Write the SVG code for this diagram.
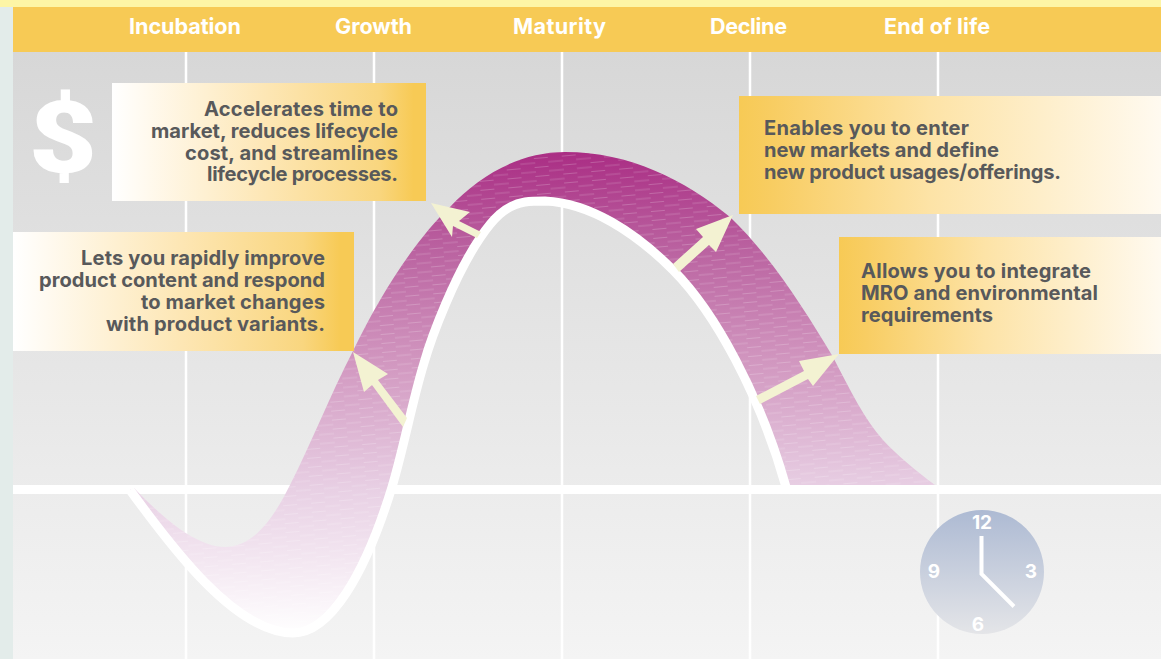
<svg xmlns="http://www.w3.org/2000/svg" width="1161" height="659" viewBox="0 0 1161 659">
<style>
.txt{font-family:Inter,"Liberation Sans",sans-serif;font-weight:700;font-size:20.1px;fill:#58595b}
.hd{font-family:Inter,"Liberation Sans",sans-serif;font-weight:700;font-size:21.6px;fill:#fff;text-anchor:middle}
.r{text-anchor:end}
.grid{stroke:#fff;stroke-width:2.5;fill:none}
.arrow{fill:#f3f2d2}
.ck{font-family:Inter,"Liberation Sans",sans-serif;font-weight:700;font-size:19px;fill:#fff;text-anchor:middle}
</style>
<defs>
<linearGradient id="bg" x1="0" y1="0" x2="0" y2="1"><stop offset="0" stop-color="#d7d7d7"/><stop offset="1" stop-color="#f4f4f4"/></linearGradient>
<linearGradient id="toY" x1="0" y1="0" x2="1" y2="0"><stop offset="0" stop-color="#fff"/><stop offset=".1" stop-color="#fffaf0"/><stop offset=".5" stop-color="#fde6b3"/><stop offset=".85" stop-color="#f9d67f"/><stop offset=".96" stop-color="#f7ca55"/><stop offset="1" stop-color="#f7ca55"/></linearGradient>
<linearGradient id="fromY" x1="0" y1="0" x2="1" y2="0"><stop offset="0" stop-color="#f7ca55"/><stop offset=".08" stop-color="#f8cd62"/><stop offset=".45" stop-color="#fde3a6"/><stop offset="1" stop-color="#fffaf0"/></linearGradient>
<linearGradient id="band" gradientUnits="userSpaceOnUse" x1="0" y1="152" x2="0" y2="635"><stop offset="0" stop-color="#aa2d84"/><stop offset=".2" stop-color="#ba62a0"/><stop offset=".43" stop-color="#d196bf"/><stop offset=".7" stop-color="#e8d0e4"/><stop offset="1" stop-color="#fff"/></linearGradient>
<linearGradient id="clock" x1="0" y1="0" x2="0" y2="1"><stop offset="0" stop-color="#adbad3"/><stop offset="1" stop-color="#e4e5e8"/></linearGradient>
<pattern id="tex" width="28" height="9" patternUnits="userSpaceOnUse" patternTransform="rotate(-5)"><path d="M0 2H15M14 6.500H29" stroke="#fff" stroke-opacity=".2" stroke-width="1"/></pattern>
<path id="bandShape" d="M130 490C170 545 235 633 293 633C330 633 365 575 392 487C404 447 412 402 424 363C432 335 455 275 480 238C492 220 505 205 525 202C532 201 538 201 545 201C590 203 635 232 673 270C715 312 760 395 786 485L935 485C915 470 897 455 883 440C865 420 850 390 833 357C805 310 770 255 730 217C685 180 630 152 565 152C520 152 480 175 450 207C415 240 380 295 353 351C330 395 312 442 290 485C275 515 255 547 225 547C195 547 160 515 134 488Z"/>
</defs>
<rect id="backdrop" x="13" y="52" width="1148" height="607" fill="url(#bg)"/>
<rect x="0" y="0" width="13" height="659" fill="#e3ecea"/>
<rect x="0" y="0" width="1161" height="7" fill="#fdf5a6"/>
<rect x="13" y="7" width="1148" height="45" fill="#f7ca55"/>
<g id="grid"><path class="grid" d="M186 52V659M374 52V659M562 52V659M750 52V659M938 52V659"/><rect x="13" y="485" width="1148" height="9" fill="#fff"/></g>
<g id="header">
<text class="hd" x="185" y="34" textLength="112">Incubation</text><text class="hd" x="373.500" y="34" textLength="77">Growth</text><text class="hd" x="559.500" y="34" textLength="93">Maturity</text><text class="hd" x="748.500" y="34" textLength="77">Decline</text><text class="hd" x="937" y="34" textLength="106">End of life</text>
</g>
<g id="curve">
<use href="#bandShape" fill="url(#band)"/>
<use href="#bandShape" fill="url(#tex)"/>
<path fill="none" stroke="#fff" stroke-width="9" d="M130 490C170 545 235 633 293 633C330 633 365 575 392 487C404 447 412 402 424 363C432 335 455 275 480 238C492 220 505 205 525 202C532 201 538 201 545 201C590 203 635 232 673 270C715 312 760 395 786 487"/>
</g>
<text id="dollar" transform="translate(63 172) scale(1.17 1)" font-family="Roboto,'Liberation Sans',sans-serif" font-weight="900" font-size="101" fill="#fff" text-anchor="middle">$</text>
<g id="connectors">
<path class="arrow" d="M353 352L388 374L378 380L407 418L403 427L372 385L364 392Z"/>
<path class="arrow" d="M431 203L470 212L459 221L481 232L477 238L453 226L452 237Z"/>
<path class="arrow" d="M733 215L696 229L703 237L673 264L679 272L709 245L716 252Z"/>
<path class="arrow" d="M839 354L799 361L804 371L756 396L760 404L808 379L813 386Z"/>
</g>
<g id="callout-time">
<rect x="112" y="83" width="314" height="118" fill="url(#toY)"/>
<text class="txt r" x="398" y="116" textLength="194">Accelerates time to</text><text class="txt r" x="398" y="138" textLength="247">market, reduces lifecycle</text><text class="txt r" x="398" y="160" textLength="213">cost, and streamlines</text><text class="txt r" x="398" y="181" textLength="191">lifecycle processes.</text>
</g>
<g id="callout-content">
<rect x="13" y="232" width="341" height="119" fill="url(#toY)"/>
<text class="txt r" x="325" y="265" textLength="244">Lets you rapidly improve</text><text class="txt r" x="325" y="287" textLength="286">product content and respond</text><text class="txt r" x="325" y="309" textLength="184">to market changes</text><text class="txt r" x="325" y="331" textLength="219">with product variants.</text>
</g>
<g id="callout-markets">
<rect x="739" y="96" width="422" height="118" fill="url(#fromY)"/>
<text class="txt" x="764" y="135" textLength="205">Enables you to enter</text><text class="txt" x="764" y="157" textLength="235">new markets and define</text><text class="txt" x="764" y="179" textLength="297">new product usages/offerings.</text>
</g>
<g id="callout-mro">
<rect x="839" y="237" width="322" height="117" fill="url(#fromY)"/>
<text class="txt" x="861" y="278" textLength="230">Allows you to integrate</text><text class="txt" x="861" y="300" textLength="237">MRO and environmental</text><text class="txt" x="861" y="322" textLength="132">requirements</text>
</g>
<g id="clock-icon">
<circle cx="982" cy="572" r="62" fill="url(#clock)"/>
<text class="ck" x="982" y="529">12</text><text class="ck" x="934" y="578">9</text><text class="ck" x="1031" y="578">3</text><text class="ck" x="978" y="631">6</text>
<path d="M981.500 536V574L1014 606.500" fill="none" stroke="#fff" stroke-width="4"/>
</g>
</svg>
